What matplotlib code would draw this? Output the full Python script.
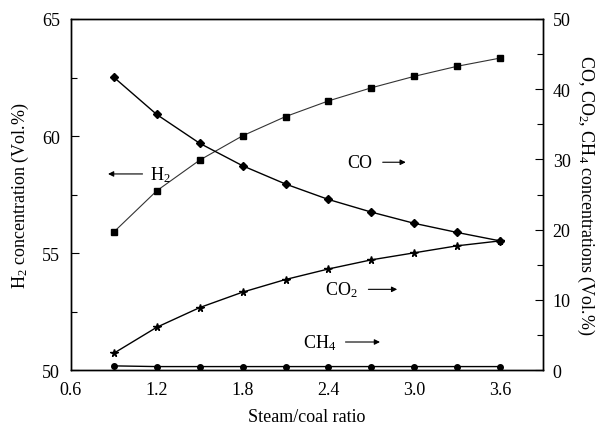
import numpy as np
import matplotlib
matplotlib.use("Agg")
import matplotlib.pyplot as plt
from matplotlib.ticker import MultipleLocator

plt.rcParams['font.family'] = ['Liberation Serif', 'DejaVu Serif']
plt.rcParams['mathtext.fontset'] = 'custom'
plt.rcParams['mathtext.rm'] = 'Liberation Serif'
plt.rcParams['mathtext.it'] = 'Liberation Serif'

# data
ratio = [0.9, 1.2, 1.5, 1.8, 2.1, 2.4, 2.7, 3.0, 3.3, 3.6]
h2 = [55.9, 57.66, 58.97, 60.01, 60.83, 61.5, 62.06, 62.55, 62.98, 63.33]
co = [41.7, 36.4, 32.3, 29.1, 26.5, 24.3, 22.5, 20.9, 19.6, 18.4]
co2 = [2.4, 6.1, 8.9, 11.1, 12.9, 14.4, 15.7, 16.7, 17.7, 18.4]
ch4 = [0.6, 0.5, 0.5, 0.5, 0.5, 0.5, 0.5, 0.5, 0.5, 0.5]

x_ticks = [0.6, 1.2, 1.8, 2.4, 3.0, 3.6]
x_tick_labels = ["0.6", "1.2", "1.8", "2.4", "3.0", "3.6"]

fig = plt.figure(figsize=(6.01, 4.31), dpi=100)
ax = fig.add_axes([0.118, 0.139, 0.7855, 0.8146])
ax2 = ax.twinx()

ax.plot(ratio, h2, color='#333333', lw=0.8, marker='s', ms=4.5, mfc='black', mec='black')
ax2.plot(ratio, co, color='black', lw=1.0, marker='D', ms=4.5, mfc='black', mec='black')
ax2.plot(ratio, co2, color='black', lw=1.0, marker='*', ms=5.5, mfc='black', mec='black')
ax2.plot(ratio, ch4, color='black', lw=1.0, marker='o', ms=4, mfc='black', mec='black')

ax.set_xlim(0.6, 3.9)
ax.set_ylim(50, 65)
ax2.set_ylim(0, 50)
ax.set_xticks(x_ticks)
ax.set_xticklabels(x_tick_labels)
ax.yaxis.set_major_locator(MultipleLocator(5))
ax.yaxis.set_minor_locator(MultipleLocator(2.5))
ax2.yaxis.set_major_locator(MultipleLocator(10))
ax2.yaxis.set_minor_locator(MultipleLocator(5))

ax.tick_params(axis='x', length=0, labelsize=13, pad=8)
ax.tick_params(axis='y', which='major', direction='in', length=6, width=0.8, labelsize=13, pad=8)
ax.tick_params(axis='y', which='minor', direction='in', length=4, width=0.8)
ax2.tick_params(axis='y', which='major', direction='in', length=6, width=0.8, labelsize=13, pad=7)
ax2.tick_params(axis='y', which='minor', direction='in', length=4, width=0.8)

for a in (ax, ax2):
    for s in a.spines.values():
        s.set_linewidth(1.0)

ax.set_xlabel("Steam/coal ratio", fontsize=13, labelpad=7)
ax.set_ylabel("H$_2$ concentration (Vol.%)", fontsize=13, labelpad=8)
ax2.set_ylabel("CO, CO$_2$, CH$_4$ concentrations (Vol.%)", fontsize=13,
               rotation=270, labelpad=18)

arrow = dict(arrowstyle='-|>', color='black', lw=0.8, mutation_scale=8)

# series labels with arrows
ax.text(1.15, 58.38, "H$_2$", fontsize=13, ha='left', va='center')
ax.annotate('', xy=(0.84, 58.38), xytext=(1.12, 58.38), arrowprops=arrow)

ax2.text(2.535, 29.6, "CO", fontsize=13, ha='left', va='center')
ax2.annotate('', xy=(2.96, 29.6), xytext=(2.76, 29.6), arrowprops=arrow)

ax2.text(2.375, 11.5, "CO$_2$", fontsize=13, ha='left', va='center')
ax2.annotate('', xy=(2.90, 11.5), xytext=(2.66, 11.5), arrowprops=arrow)

ax2.text(2.22, 4.0, "CH$_4$", fontsize=13, ha='left', va='center')
ax2.annotate('', xy=(2.78, 4.0), xytext=(2.50, 4.0), arrowprops=arrow)

fig.savefig("out.png", dpi=100)
